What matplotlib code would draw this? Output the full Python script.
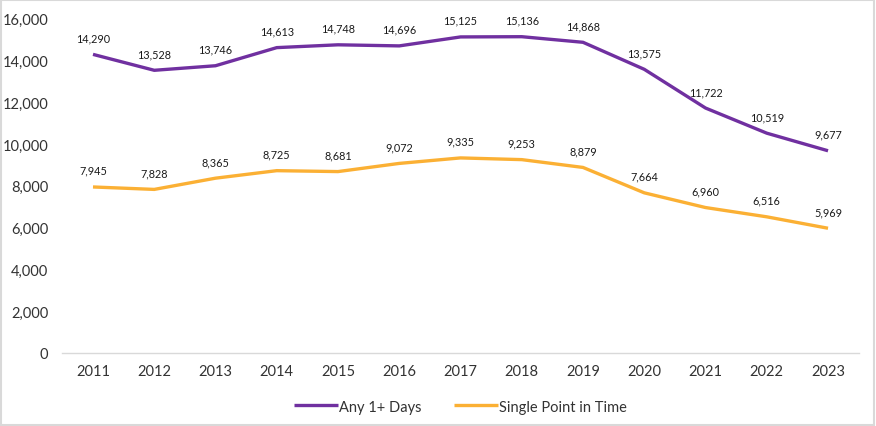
import matplotlib.pyplot as plt
from matplotlib.patches import Rectangle
from matplotlib.ticker import FuncFormatter

years = ['2011', '2012', '2013', '2014', '2015', '2016', '2017',
         '2018', '2019', '2020', '2021', '2022', '2023']
any_days = [14290, 13528, 13746, 14613, 14748, 14696, 15125,
            15136, 14868, 13575, 11722, 10519, 9677]
single_point = [7945, 7828, 8365, 8725, 8681, 9072, 9335,
                9253, 8879, 7664, 6960, 6516, 5969]

purple = '#7030A0'
gold = '#FBB034'

plt.rcParams['font.family'] = ['Lato', 'DejaVu Sans']

fig = plt.figure(figsize=(8.76, 4.27), dpi=100)
ax = fig.add_axes([0.0712, 0.171, 0.909, 0.783])

x = list(range(len(years)))
ax.plot(x, any_days, color=purple, lw=2.4, label='Any 1+ Days', solid_capstyle='butt')
ax.plot(x, single_point, color=gold, lw=2.4, label='Single Point in Time', solid_capstyle='butt')

for xi, v in zip(x, any_days):
    ax.annotate(f'{v:,}', (xi, v), xytext=(0, 8), textcoords='offset points',
                ha='center', va='bottom', fontsize=7.8, color='#1a1a1a')
for xi, v in zip(x, single_point):
    ax.annotate(f'{v:,}', (xi, v), xytext=(0, 8), textcoords='offset points',
                ha='center', va='bottom', fontsize=7.8, color='#1a1a1a')

ax.set_xlim(-0.5, len(years) - 0.5)
ax.set_ylim(0, 16000)
ax.set_yticks(range(0, 16001, 2000))
ax.yaxis.set_major_formatter(FuncFormatter(lambda v, p: f'{int(v):,}'))
ax.set_xticks(x)
ax.set_xticklabels(years)
ax.tick_params(axis='both', length=0, labelsize=10.5, colors='#333333')
ax.tick_params(axis='x', pad=8)
ax.tick_params(axis='y', pad=10)

for s in ['top', 'right', 'left']:
    ax.spines[s].set_visible(False)
ax.spines['bottom'].set_color('#D9D9D9')
ax.spines['bottom'].set_linewidth(1)

ax.legend(loc='upper center', bbox_to_anchor=(0.5, -0.1), ncol=2, frameon=False,
          fontsize=10.5, handlelength=3.0, handletextpad=0.1, columnspacing=2.2,
          labelcolor='#333333')

fig.patches.append(Rectangle((0.001, 0.002), 0.997, 0.995, transform=fig.transFigure,
                             fill=False, edgecolor='#D9D9D9', lw=1.5))

fig.savefig('out.png', dpi=100)
